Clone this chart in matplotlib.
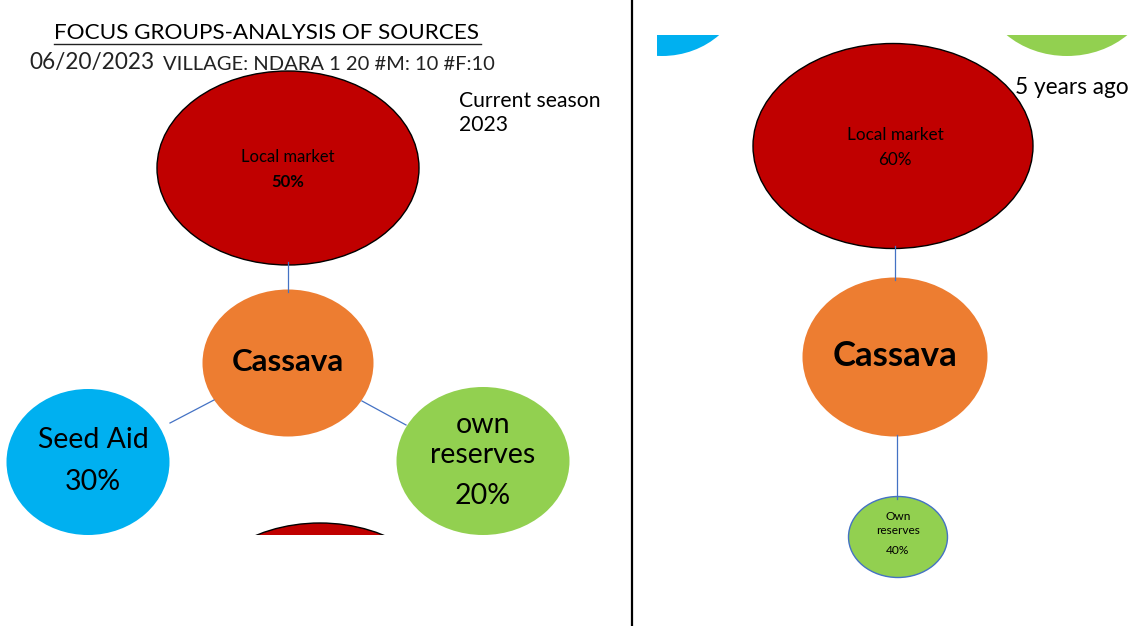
import matplotlib.pyplot as plt
from matplotlib.patches import Ellipse, Rectangle

plt.rcParams['font.family'] = ['Lato', 'DejaVu Sans']

# seed sources for cassava, focus group Ndara 1
crop = 'Cassava'
current_sources = ['Local market', 'Seed Aid', 'own reserves']
current_shares = [50, 30, 20]
past_sources = ['Local market', 'Own reserves']
past_shares = [60, 40]

RED = '#C00000'
ORANGE = '#ED7D31'
BLUE = '#00B0F0'
GREEN = '#92D050'
LINK = '#4472C4'

fig = plt.figure(figsize=(11.31, 6.26), dpi=100)
ax = fig.add_axes([0, 0, 1, 1])
ax.set_xlim(0, 1131)
ax.set_ylim(626, 0)
ax.axis('off')

left_clip = Rectangle((0, 0), 631, 535, transform=ax.transData)
right_clip = Rectangle((657, 35), 474, 591, transform=ax.transData)


def bubble(cx, cy, w, h, color, edge='none', lw=0.0, clip=None):
    e = Ellipse((cx, cy), w, h, facecolor=color, edgecolor=edge, linewidth=lw)
    ax.add_patch(e)
    if clip is not None:
        e.set_clip_path(clip)
    return e


def link(x0, y0, x1, y1):
    ax.plot([x0, x1], [y0, y1], color=LINK, lw=0.9)


# ---- current season (left) ----
ax.text(267, 33, 'FOCUS GROUPS-ANALYSIS OF SOURCES', fontsize=16.2,
        ha='center', va='center', color='black')
ax.plot([54, 481], [44, 44], color='#222222', lw=1.0)
ax.text(29, 63, '06/20/2023', fontsize=16.3, ha='left', va='center', color='#222222')
ax.text(163, 64, 'VILLAGE: NDARA 1 20 #M: 10 #F:10', fontsize=14.5,
        ha='left', va='center', color='#222222')
ax.text(459, 113, 'Current season\n2023', fontsize=15.2, ha='left', va='center',
        linespacing=1.3)

link(288, 262, 288, 292)
link(170, 423, 214, 400)
link(362, 401, 406, 425)

bubble(288, 168, 262, 194, RED, edge='black', lw=1.0, clip=left_clip)
bubble(288, 363, 171, 147, ORANGE, clip=left_clip)
bubble(88, 462, 163, 146, BLUE, clip=left_clip)
bubble(483, 461, 173, 148, GREEN, clip=left_clip)
bubble(320, 620, 262, 194, RED, edge='black', lw=1.0, clip=left_clip)

ax.text(288, 157, current_sources[0], fontsize=12, ha='center', va='center')
ax.text(288, 182, f'{current_shares[0]}%', fontsize=12, fontweight='bold',
        ha='center', va='center')
ax.text(288, 362, crop, fontsize=22.5, fontweight='bold', ha='center', va='center')
ax.text(93, 440, current_sources[1], fontsize=20.5, ha='center', va='center')
ax.text(93, 482, f'{current_shares[1]}%', fontsize=20.5, ha='center', va='center')
own, reserves = current_sources[2].split(' ')
ax.text(483, 425, own, fontsize=20.5, ha='center', va='center')
ax.text(483, 455, reserves, fontsize=20.5, ha='center', va='center')
ax.text(483, 496, f'{current_shares[2]}%', fontsize=20.5, ha='center', va='center')

# divider
ax.plot([632, 632], [0, 626], color='black', lw=1.6)

# ---- five years ago (right) ----
bubble(662, -17, 163, 146, BLUE, clip=right_clip)
bubble(1067, -18, 173, 148, GREEN, clip=right_clip)

link(895, 246, 895, 280)
link(897, 435, 897, 499)

bubble(893, 146, 280, 205, RED, edge='black', lw=1.0)
ax.text(1015, 87, '5 years ago', fontsize=16.3, ha='left', va='center')
bubble(895, 357, 185, 159, ORANGE)
bubble(898, 537, 99, 81, GREEN, edge=LINK, lw=1.0)

ax.text(895, 135, past_sources[0], fontsize=12.3, ha='center', va='center')
ax.text(895, 160, f'{past_shares[0]}%', fontsize=12.3, ha='center', va='center')
ax.text(895, 356, crop, fontsize=25, fontweight='bold', ha='center', va='center')
p_own, p_res = past_sources[1].split(' ')
ax.text(898, 517, p_own, fontsize=8.6, ha='center', va='center')
ax.text(898, 531, p_res, fontsize=8.6, ha='center', va='center')
ax.text(898, 551, f'{past_shares[1]}%', fontsize=8.6, ha='center', va='center')

fig.savefig('out.png', dpi=100, facecolor='white')
